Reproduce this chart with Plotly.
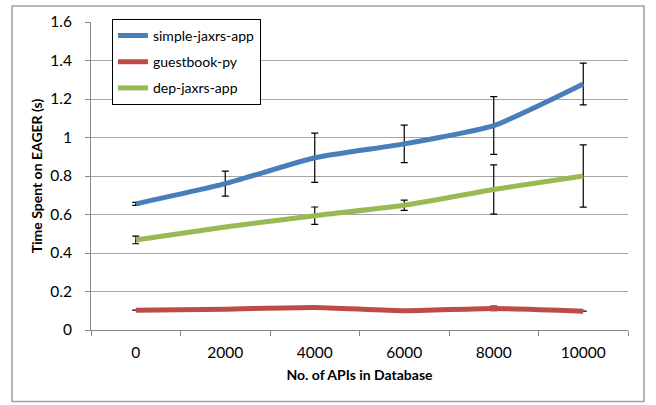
import plotly.graph_objects as go

# API counts in the database (category axis)
api_counts = ["0", "2000", "4000", "6000", "8000", "10000"]

# Mean time spent on EAGER (seconds) and error-bar half-widths
simple_jaxrs = [0.655, 0.76, 0.895, 0.967, 1.062, 1.278]
simple_jaxrs_err = [0.008, 0.065, 0.128, 0.097, 0.15, 0.108]

guestbook_py = [0.103, 0.108, 0.117, 0.100, 0.112, 0.098]
guestbook_py_err = [0.0, 0.0, 0.005, 0.0, 0.012, 0.0]

dep_jaxrs = [0.468, 0.535, 0.594, 0.648, 0.73, 0.80]
dep_jaxrs_err = [0.02, 0.0, 0.045, 0.027, 0.128, 0.162]

series = [
    ("simple-jaxrs-app", simple_jaxrs, simple_jaxrs_err, "#4a7ebb"),
    ("guestbook-py", guestbook_py, guestbook_py_err, "#be4b48"),
    ("dep-jaxrs-app", dep_jaxrs, dep_jaxrs_err, "#98b954"),
]

fig = go.Figure()
for i, (name, vals, errs, color) in enumerate(series):
    fig.add_trace(go.Scatter(
        x=api_counts, y=vals, name=name, mode="lines",
        line=dict(color=color, width=5, shape="spline", smoothing=0.5),
        error_y=dict(type="data", array=errs, visible=True,
                     color="#000000", thickness=1.2, width=3.5),
        legendgroup=f"g{i}",
    ))

font = "Lato, 'Open Sans', sans-serif"

fig.update_layout(
    width=656, height=405,
    margin=dict(l=91, r=28, t=20, b=75),
    paper_bgcolor="white", plot_bgcolor="white",
    font=dict(family=font, color="#000000"),
    showlegend=True,
    legend=dict(
        x=0.039, y=1.01, xanchor="left", yanchor="top",
        bordercolor="#000000", borderwidth=1, bgcolor="white",
        font=dict(size=14, family=font), tracegroupgap=5,
        itemwidth=30,
    ),
    xaxis=dict(
        type="category", range=[-0.5, 5.5], tickson="boundaries",
        ticks="outside", ticklen=5, tickcolor="#868686",
        showline=True, linecolor="#868686", linewidth=1,
        showgrid=False, tickfont=dict(size=15.5), ticklabelstandoff=8,
        title=dict(text="<b>No. of APIs in Database</b>", font=dict(size=14), standoff=10),
    ),
    yaxis=dict(
        range=[0, 1.6], dtick=0.2, tickformat="~g",
        ticks="outside", ticklen=5, tickcolor="#868686",
        showline=True, linecolor="#868686", linewidth=1,
        showgrid=True, gridcolor="#a6a6a6", gridwidth=1,
        zeroline=False, tickfont=dict(size=15.5), ticklabelstandoff=10,
        title=dict(text="<b>Time Spent on EAGER (s)</b>", font=dict(size=14), standoff=4),
    ),
    shapes=[dict(
        type="rect", xref="paper", yref="paper",
        x0=-0.147, x1=1.0298, y0=-0.232, y1=1.0516,
        line=dict(color="#a0a0a0", width=1.5), fillcolor="rgba(0,0,0,0)",
        layer="below",
    )],
)

fig.write_html("out.html")
